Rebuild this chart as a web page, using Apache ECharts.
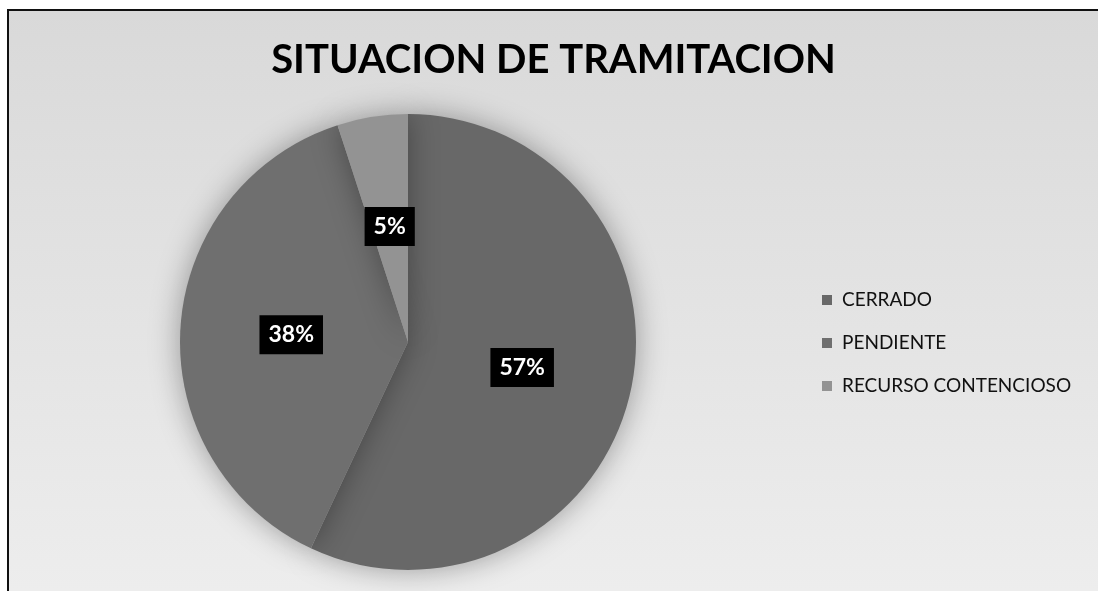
<!DOCTYPE html>
<html>
<head>
<meta charset="utf-8">
<script src="https://cdn.jsdelivr.net/npm/echarts@6/dist/echarts.min.js"></script>
<style>
  html, body { margin: 0; padding: 0; background: #ffffff; width: 1098px; height: 591px; overflow: hidden; }
  #frame { position: absolute; left: 7px; top: 9px; width: 1091px; height: 582px;
           border-left: 2px solid #111; border-top: 2px solid #111; box-sizing: border-box; }
  #chart { position: absolute; left: 9px; top: 11px; width: 1089px; height: 580px; }
</style>
</head>
<body>
<div id="frame"></div>
<div id="chart"></div>
<script>
const titleText = 'SITUACION DE TRAMITACION';
const categories = ['CERRADO', 'PENDIENTE', 'RECURSO CONTENCIOSO'];
const values = [57, 38, 5];
const sliceColors = ['#686868', '#6f6f6f', '#939393'];

// fit title width to the reference (~562px) with an available font
const cv = document.createElement('canvas').getContext('2d');
cv.font = 'bold 100px Lato';
const w100 = cv.measureText(titleText).width;
const titleSize = Math.round(100 * 562 / w100);

const chart = echarts.init(document.getElementById('chart'), null, { renderer: 'canvas' });
chart.setOption({
  backgroundColor: new echarts.graphic.LinearGradient(0, 0, 0, 1, [
    { offset: 0, color: '#d9d9d9' },
    { offset: 1, color: '#ededed' }
  ]),
  animation: false,
  title: {
    text: titleText,
    left: 'center',
    top: 49 - titleSize / 2,
    padding: 0,
    textStyle: { fontFamily: 'Lato', fontWeight: 'bold', fontSize: titleSize, color: '#000', lineHeight: titleSize }
  },
  legend: {
    orient: 'vertical',
    left: 813,
    top: 279,
    padding: 0,
    itemWidth: 10,
    itemHeight: 10,
    itemGap: 23,
    icon: 'rect',
    data: categories,
    textStyle: { fontFamily: 'Lato', fontSize: 19, lineHeight: 20, color: '#111', padding: [0, 0, 0, 5] }
  },
  series: [{
    type: 'pie',
    center: [399, 331],
    radius: [0, 228],
    startAngle: 90,
    clockwise: true,
    data: categories.map((c, i) => ({ name: c, value: values[i], itemStyle: { color: sliceColors[i] } })),
    itemStyle: { shadowBlur: 30, shadowColor: 'rgba(0,0,0,0.35)', borderWidth: 0 },
    label: {
      show: true,
      position: 'inside',
      formatter: '{d}%',
      color: '#ffffff',
      fontFamily: 'Lato',
      fontWeight: 'bold',
      fontSize: 23,
      lineHeight: 23,
      backgroundColor: '#000000',
      padding: [8, 9, 8, 9]
    },
    labelLine: { show: false },
    emphasis: { disabled: true }
  }]
});
</script>
</body>
</html>
